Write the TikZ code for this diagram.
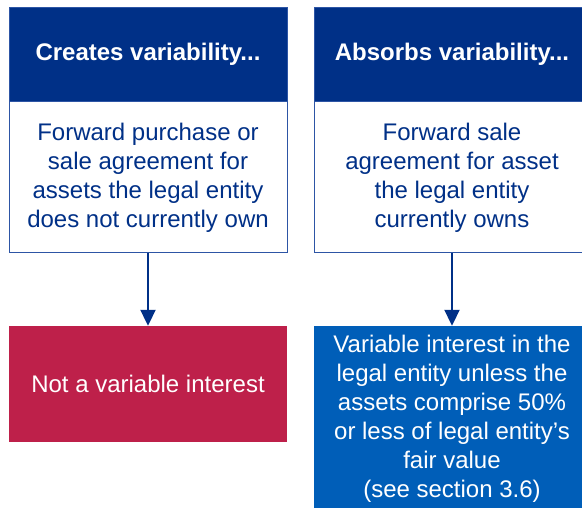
\documentclass[tikz,border=0pt]{standalone}
\usepackage{fontspec}
\setmainfont{Liberation Sans}
\usetikzlibrary{arrows.meta}
\definecolor{hdrblue}{RGB}{0,48,135}
\definecolor{edgeblue}{RGB}{45,85,165}
\definecolor{boxred}{RGB}{190,32,74}
\definecolor{boxblue}{RGB}{0,94,184}
\begin{document}
\begin{tikzpicture}[x=1pt,y=-1pt,
  base/.style={inner sep=0pt, align=center, font=\fontsize{24}{29}\selectfont},
  hdr/.style={base, fill=hdrblue, draw=edgeblue, line width=0.8pt, text=white, font=\fontsize{24}{29}\selectfont\bfseries, minimum height=95pt},
  body/.style={base, fill=white, draw=edgeblue, line width=1pt, text=hdrblue, minimum height=151pt},
  redbox/.style={base, fill=boxred, text=white, minimum width=278pt, minimum height=116pt},
  bluebox/.style={base, fill=boxblue, text=white, minimum width=276pt, minimum height=186pt},
  flow/.style={draw=hdrblue, line width=2pt, -{Triangle[width=15pt,length=16pt]}}
]
\useasboundingbox (0,0) rectangle (582,508);
\clip (0,0) rectangle (582,508);
\node[hdr, minimum width=278pt] (lh) at (148,54.5) {Creates variability...};
\node[body, minimum width=278pt] (lb) at (148,177.5) {Forward purchase or\\sale agreement for\\assets the legal entity\\does not currently own};
\node[hdr, minimum width=276pt] (rh) at (452,54.5) {Absorbs variability...};
\node[body, minimum width=276pt] (rb) at (452,177.5) {Forward sale\\agreement for asset\\the legal entity\\currently owns};
\node[redbox] (red) at (148,384) {Not a variable interest};
\node[bluebox] (blue) at (452,419) {Variable interest in the\\legal entity unless the\\assets comprise 50\%\\or less of legal entity’s\\fair value\\(see section 3.6)};
\draw[flow] (lb.south) -- (red.north);
\draw[flow] (rb.south) -- (blue.north);
\end{tikzpicture}
\end{document}
